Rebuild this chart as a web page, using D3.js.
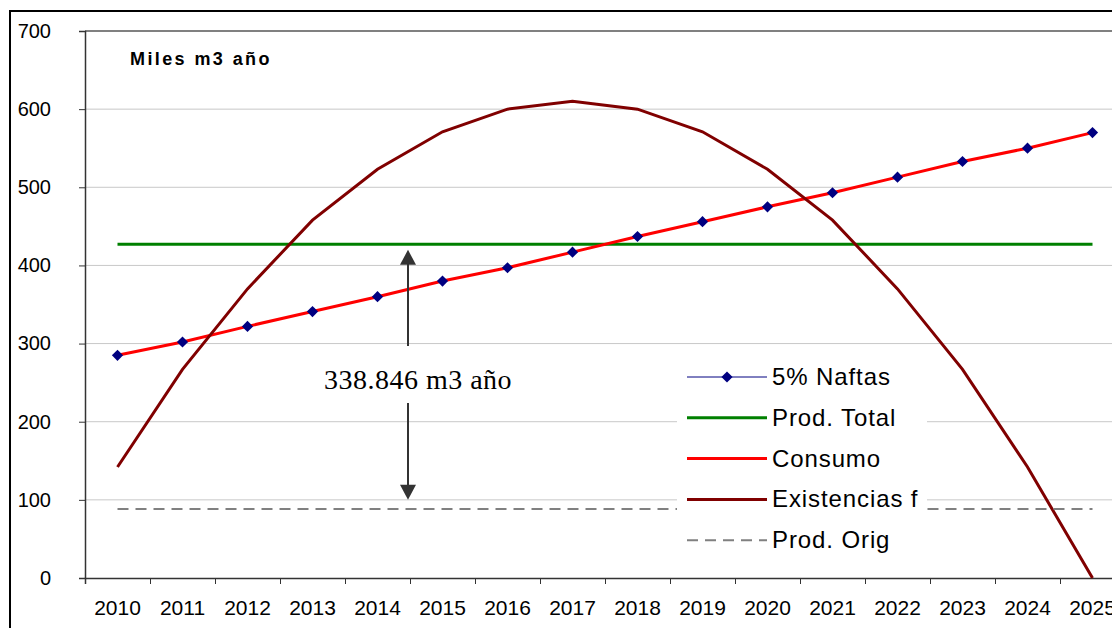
<!DOCTYPE html>
<html>
<head>
<meta charset="utf-8">
<script src="https://cdn.jsdelivr.net/npm/d3@7"></script>
<style>
  html, body { margin: 0; padding: 0; background: #fff; }
  svg { display: block; font-family: Arial, "Liberation Sans", sans-serif; }
</style>
</head>
<body>
<svg id="chart" width="1112" height="628"></svg>
<script>
// Years on the category axis
const years = ["2010","2011","2012","2013","2014","2015","2016","2017",
               "2018","2019","2020","2021","2022","2023","2024","2025"];

// Series values (miles m3 por año)
const naftas5 = [285, 302, 322, 341, 360, 380, 397, 417, 437, 456, 475, 493, 513, 533, 550, 570];
const consumo = [285, 302, 322, 341, 360, 380, 397, 417, 437, 456, 475, 493, 513, 533, 550, 570];
const prodTotal = [427, 427, 427, 427, 427, 427, 427, 427, 427, 427, 427, 427, 427, 427, 427, 427];
const existencias = [142, 267, 370, 458, 523, 571, 600, 610, 600, 571, 523, 458, 370, 267, 142, 0];
const prodOrig = [88.154, 88.154, 88.154, 88.154, 88.154, 88.154, 88.154, 88.154,
                  88.154, 88.154, 88.154, 88.154, 88.154, 88.154, 88.154, 88.154];

const yTicks = [0, 100, 200, 300, 400, 500, 600, 700];
const gapLabel = "338.846 m3 año";
const unitsLabel = "Miles m3 año";

const legendItems = [
  { name: "5% Naftas", color: "#000080", width: 1, marker: true },
  { name: "Prod. Total", color: "#008000", width: 3 },
  { name: "Consumo", color: "#ff0000", width: 3 },
  { name: "Existencias f", color: "#800000", width: 3 },
  { name: "Prod. Orig", color: "#808080", width: 2, dash: "11,7" }
];

const sans = "Arial, 'Liberation Sans', sans-serif";
const serif = "'Times New Roman', 'Liberation Serif', serif";

const svg = d3.select("#chart");

const plotLeft = 85, plotTop = 31, plotBottom = 578, plotRight = 1125;

const x = d3.scaleBand().domain(years).range([plotLeft, plotRight]).padding(0);
const xIdx = d3.scaleLinear().domain([0, years.length]).range([plotLeft, plotRight]);
const y = d3.scaleLinear().domain([0, 700]).range([plotBottom, plotTop]);
const cx = yr => x(yr) + x.bandwidth() / 2;

// Outer chart frame
svg.append("rect")
  .attr("x", 10).attr("y", 11)
  .attr("width", 1200).attr("height", 700)
  .attr("fill", "none").attr("stroke", "#000").attr("stroke-width", 2);

// Horizontal gridlines
svg.append("g").selectAll("line")
  .data(yTicks.filter(v => v > 0 && v < 700))
  .join("line")
  .attr("x1", plotLeft).attr("x2", 1112)
  .attr("y1", d => y(d)).attr("y2", d => y(d))
  .attr("stroke", "#c8c8c8").attr("stroke-width", 1);

// Top border of the plot area
svg.append("line")
  .attr("x1", plotLeft).attr("x2", 1112)
  .attr("y1", y(700)).attr("y2", y(700))
  .attr("stroke", "#808080").attr("stroke-width", 2);

// Y axis
const yAxis = svg.append("g")
  .attr("transform", `translate(${plotLeft},0)`)
  .call(d3.axisLeft(y).tickValues(yTicks).tickSize(6).tickPadding(28).tickFormat(d3.format("d")));
yAxis.select(".domain").attr("stroke", "#333").attr("stroke-width", 1.5);
yAxis.selectAll(".tick line").attr("stroke", "#333");
yAxis.selectAll("text").style("font-size", "20px").style("font-family", sans).attr("fill", "#000");

// X axis: tick marks on category boundaries
const xTicksAxis = svg.append("g")
  .attr("transform", `translate(0,${plotBottom})`)
  .call(d3.axisBottom(xIdx).tickValues(d3.range(0, years.length + 1)).tickSize(6).tickFormat(""));
xTicksAxis.select(".domain").attr("stroke", "#333").attr("stroke-width", 1.5);
xTicksAxis.selectAll(".tick line").attr("stroke", "#333");

// X axis: year labels centred on categories
const xLabels = svg.append("g")
  .attr("transform", `translate(0,${plotBottom})`)
  .call(d3.axisBottom(x).tickSize(0).tickPadding(22));
xLabels.select(".domain").remove();
xLabels.selectAll("text").style("font-size", "21px").style("font-family", sans).attr("fill", "#000");

// Series lines
const line = d3.line().x((d, i) => cx(years[i])).y(d => y(d));

svg.append("path").datum(naftas5).attr("d", line)
  .attr("fill", "none").attr("stroke", "#000080").attr("stroke-width", 1);
svg.append("path").datum(prodTotal).attr("d", line)
  .attr("fill", "none").attr("stroke", "#008000").attr("stroke-width", 3);
svg.append("path").datum(consumo).attr("d", line)
  .attr("fill", "none").attr("stroke", "#ff0000").attr("stroke-width", 3);
svg.append("path").datum(existencias).attr("d", line)
  .attr("fill", "none").attr("stroke", "#800000").attr("stroke-width", 3);
svg.append("path").datum(prodOrig).attr("d", line)
  .attr("fill", "none").attr("stroke", "#808080").attr("stroke-width", 2)
  .attr("stroke-dasharray", "11,7");

// Diamond markers for 5% Naftas
const diamond = d3.symbol().type(d3.symbolDiamond2).size(80);
svg.append("g").selectAll("path")
  .data(naftas5)
  .join("path")
  .attr("d", diamond)
  .attr("transform", (d, i) => `translate(${cx(years[i])},${y(d)})`)
  .attr("fill", "#000080");

// Units label
svg.append("text")
  .attr("x", 130).attr("y", 65)
  .style("font-size", "18px").style("font-weight", "bold").style("font-family", sans)
  .style("letter-spacing", "2.4px")
  .text(unitsLabel);

// Gap annotation: double arrow between production levels
const ax = x("2015") - 2;
const arrowColor = "#333";
function arrowHead(tipY, dir) {
  const h = 15, w = 8;
  return `M${ax},${tipY} L${ax - w},${tipY + dir * h} L${ax + w},${tipY + dir * h} Z`;
}
svg.append("line")
  .attr("x1", ax).attr("x2", ax).attr("y1", y(420) + 14).attr("y2", 346)
  .attr("stroke", arrowColor).attr("stroke-width", 2);
svg.append("path").attr("d", arrowHead(y(420), 1)).attr("fill", arrowColor);
svg.append("line")
  .attr("x1", ax).attr("x2", ax).attr("y1", 403).attr("y2", y(100) - 14)
  .attr("stroke", arrowColor).attr("stroke-width", 2);
svg.append("path").attr("d", arrowHead(y(100), -1)).attr("fill", arrowColor);
svg.append("text")
  .attr("x", 418).attr("y", 389)
  .attr("text-anchor", "middle")
  .style("font-family", serif)
  .style("font-size", "28px")
  .style("letter-spacing", "0.5px")
  .text(gapLabel);

// Legend
const lg = svg.append("g");
lg.append("rect")
  .attr("x", 677).attr("y", 357).attr("width", 250).attr("height", 208)
  .attr("fill", "#fff");
const rows = lg.selectAll("g.item")
  .data(legendItems)
  .join("g")
  .attr("class", "item")
  .attr("transform", (d, i) => `translate(0,${377 + i * 40.8})`);
rows.append("line")
  .attr("x1", 687).attr("x2", 767).attr("y1", 0).attr("y2", 0)
  .attr("stroke", d => d.color).attr("stroke-width", d => d.width)
  .attr("stroke-dasharray", d => d.dash || null);
rows.filter(d => d.marker).append("path")
  .attr("d", diamond)
  .attr("transform", "translate(727,0)")
  .attr("fill", "#000080");
rows.append("text")
  .attr("x", 772).attr("y", 8)
  .style("font-size", "24px").style("font-family", sans)
  .style("letter-spacing", "0.9px")
  .attr("fill", "#000")
  .text(d => d.name);
</script>
</body>
</html>
